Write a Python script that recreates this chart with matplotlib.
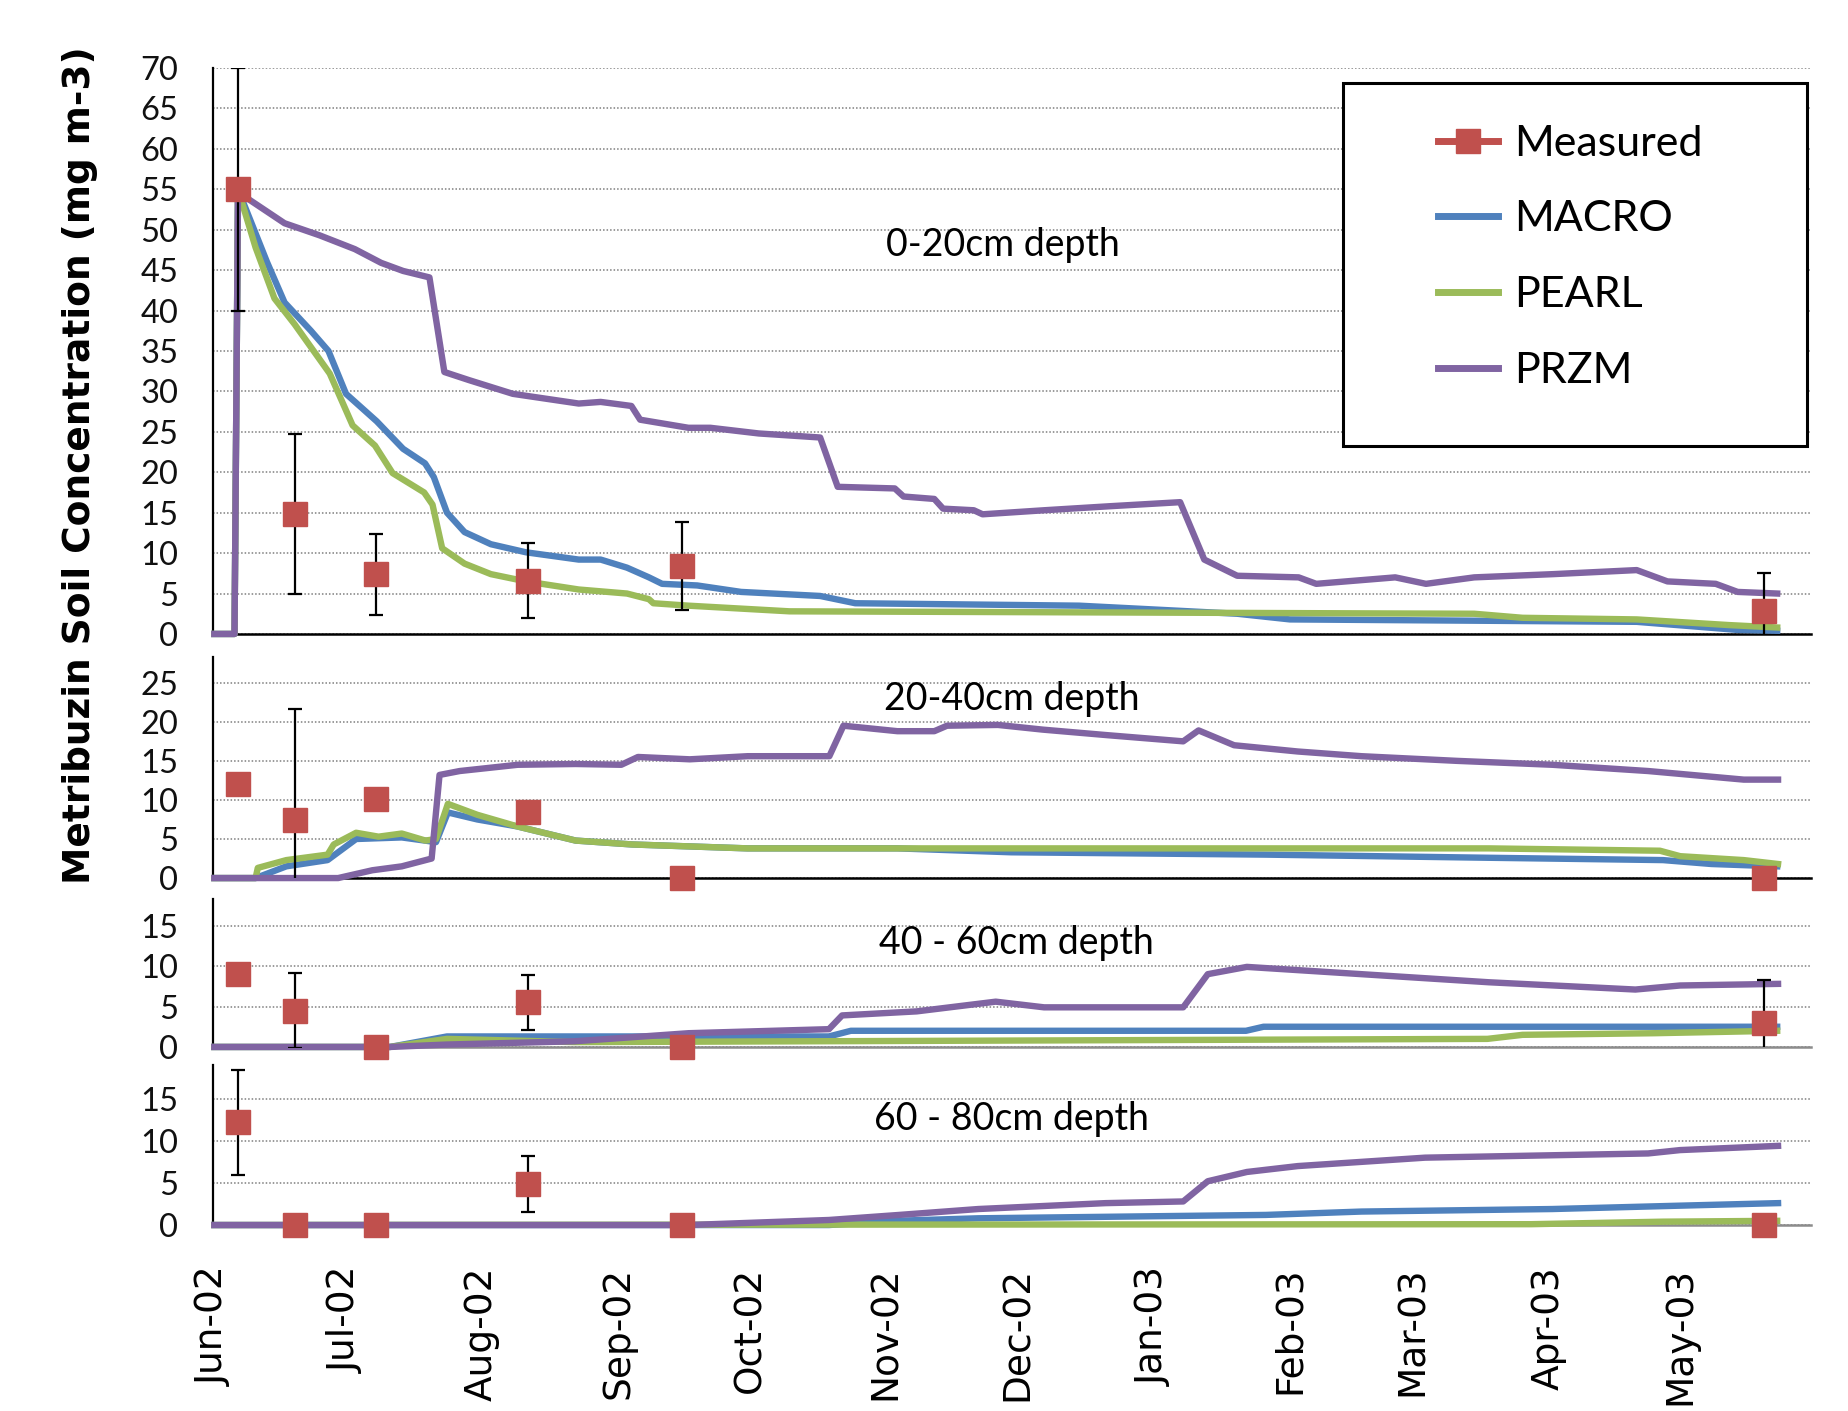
import numpy as np
import matplotlib
matplotlib.use('Agg')
import matplotlib.pyplot as plt
import matplotlib.dates as mdates
from matplotlib.lines import Line2D
from matplotlib.patches import Rectangle

# days after 1 Jun 2002
start = mdates.datestr2num('2002-06-01')

meas_days = [5.4, 18.3, 36.8, 71.5, 106.5, 353]
meas_0_20 = [55, 14.8, 7.4, 6.6, 8.4, 2.8]
err_0_20 = [15, 9.9, 5.0, 4.6, 5.4, 4.8]
meas_20_40 = [12, 7.4, 10.1, 8.5, 0, 0]
err_20_40 = [0, 14.2, 0, 0, 0, 0]
meas_40_60 = [9, 4.5, 0, 5.5, 0, 3.0]
err_40_60 = [0, 4.6, 0, 3.4, 0, 5.3]
meas_60_80 = [12.2, 0, 0, 4.9, 0, 0]
err_60_80 = [6.2, 0, 0, 3.3, 0, 0]

# 0-20 cm
macro1_d = [0, 4.6, 5.4, 12, 16, 22, 26, 30, 37, 43, 48, 50, 53, 57, 63, 71, 83, 88, 94, 99, 102, 110,
            120, 138, 146, 197, 233, 245, 324, 347, 356]
macro1_v = [0, 0, 55, 46, 41, 37.5, 35, 29.7, 26.3, 22.9, 21.1, 19.4, 15, 12.6, 11.1, 10.1, 9.2, 9.2, 8.2,
            7, 6.2, 6, 5.2, 4.7, 3.8, 3.5, 2.5, 1.8, 1.5, 0.5, 0.4]
pearl1_d = [0, 4.6, 5.4, 9.4, 13.7, 18.3, 26.3, 31.5, 36.6, 40.6, 47.8, 49.7, 51.9, 57, 63, 71, 83, 94,
            99, 100, 108, 131, 287, 298, 324, 345, 356]
pearl1_v = [0, 0, 55, 47.8, 41.5, 38.3, 32.2, 25.8, 23.3, 19.9, 17.5, 16, 10.6, 8.7, 7.4, 6.5, 5.5, 5.0,
            4.3, 3.8, 3.5, 2.8, 2.5, 2.0, 1.8, 1.1, 0.8]
przm1_d = [0, 4.6, 5.4, 8, 16, 24, 32, 38, 43, 49, 52.4, 58, 68, 83, 88, 95, 97, 108, 113, 124, 138, 142,
           155, 157, 164, 166, 173, 175, 189, 204, 220, 225.5, 233, 247, 251, 269, 276, 287, 305, 324, 331,
           342, 347, 356]
przm1_v = [0, 0, 55, 53.7, 50.8, 49.3, 47.6, 45.9, 44.9, 44.1, 32.4, 31.4, 29.7, 28.5, 28.7, 28.2, 26.5,
           25.5, 25.5, 24.8, 24.3, 18.2, 18, 17, 16.7, 15.5, 15.3, 14.8, 15.3, 15.8, 16.3, 9.2, 7.2, 7, 6.2,
           7, 6.2, 7, 7.4, 7.9, 6.5, 6.2, 5.2, 5]

# 20-40 cm
macro2_d = [0, 9.4, 16.4, 25.8, 32.3, 42.7, 50.5, 53.2, 59.9, 69.1, 82.3, 95.2, 121.5, 155.6, 181.5,
            239.5, 290, 330, 341, 356]
macro2_v = [0, 0, 1.5, 2.3, 5, 5.2, 4.6, 8.4, 7.5, 6.6, 4.8, 4.3, 3.8, 3.8, 3.3, 3.0, 2.6, 2.3, 1.8, 1.5]
pearl2_d = [0, 9.4, 9.9, 16.4, 25.8, 27.2, 32.3, 37.4, 42.7, 48.1, 50.5, 53.2, 59.9, 69.1, 82.3, 95.2,
            121.5, 290.3, 329.3, 333.9, 348.4, 356.2]
pearl2_v = [0, 0, 1.3, 2.3, 3, 4.3, 5.8, 5.3, 5.7, 4.8, 5, 9.5, 8.1, 6.6, 4.8, 4.3, 3.8, 3.8, 3.5, 2.8,
            2.3, 1.8]
przm2_d = [0, 28.2, 36, 42.7, 49.5, 51.3, 55.9, 69.1, 82.3, 92.7, 96.5, 108.3, 121.5, 140.1, 143.3, 155.6,
           164, 166.9, 178.5, 188.7, 203.2, 220.7, 224.2, 232.3, 246.8, 261.3, 283.1, 304.8, 326.6, 348.4,
           356.2]
przm2_v = [0, 0, 1, 1.5, 2.5, 13.2, 13.7, 14.5, 14.6, 14.5, 15.5, 15.2, 15.6, 15.6, 19.5, 18.8, 18.8, 19.5,
           19.6, 19, 18.3, 17.5, 18.9, 17, 16.2, 15.6, 15, 14.5, 13.7, 12.6, 12.6]

# 40-60 cm
macro3_d = [0, 40, 53, 140, 145, 235, 239, 356]
macro3_v = [0, 0, 1.3, 1.3, 2.0, 2.0, 2.5, 2.5]
pearl3_d = [0, 40, 53, 82, 290, 298, 328, 356]
pearl3_v = [0, 0, 1, 0.6, 1, 1.5, 1.7, 2.0]
przm3_d = [0, 40, 53, 82, 108, 140, 143, 160, 178, 189, 220.7, 226.3, 235.2, 261.3, 290.3, 323.7,
           333.9, 356.2]
przm3_v = [0, 0, 0.3, 0.7, 1.7, 2.2, 3.9, 4.4, 5.6, 4.9, 4.9, 9, 9.9, 9, 8, 7.1, 7.6, 7.8]

# 60-80 cm
macro4_d = [0, 140, 155, 174, 239.5, 261.3, 304.8, 333.9, 356.2]
macro4_v = [0, 0, 0.5, 0.8, 1.2, 1.6, 1.9, 2.3, 2.6]
pearl4_d = [0, 300, 330, 356]
pearl4_v = [0, 0.1, 0.4, 0.5]
przm4_d = [0, 108, 140, 156, 174, 203, 220.7, 226.3, 235.2, 246.8, 275.8, 326.6, 333.9, 356.2]
przm4_v = [0, 0, 0.6, 1.2, 1.9, 2.6, 2.8, 5.2, 6.3, 7, 8, 8.5, 8.9, 9.4]

panels = [
    ('0-20cm depth', 70, 70, meas_0_20, err_0_20, (macro1_d, macro1_v), (pearl1_d, pearl1_v), (przm1_d, przm1_v)),
    ('20-40cm depth', 28.3, 25, meas_20_40, err_20_40, (macro2_d, macro2_v), (pearl2_d, pearl2_v), (przm2_d, przm2_v)),
    ('40 - 60cm depth', 18.3, 15, meas_40_60, err_40_60, (macro3_d, macro3_v), (pearl3_d, pearl3_v), (przm3_d, przm3_v)),
    ('60 - 80cm depth', 19, 15, meas_60_80, err_60_80, (macro4_d, macro4_v), (pearl4_d, pearl4_v), (przm4_d, przm4_v)),
]

c_meas = '#C0504D'
c_macro = '#4F81BD'
c_pearl = '#9BBB59'
c_przm = '#8064A2'

rects = [
    [0.1152, 0.5507, 0.8640, 0.4011],
    [0.1152, 0.3777, 0.8640, 0.1567],
    [0.1152, 0.2580, 0.8640, 0.1049],
    [0.1152, 0.1318, 0.8640, 0.1134],
]
label_pos = [(0.5425, 0.8264), (0.5473, 0.5046), (0.5495, 0.3317), (0.5473, 0.2069)]

fig = plt.figure(figsize=(18.49, 14.11), dpi=100)
axes = []
for i, (name, ymax, ytop, meas, err, mac, pea, prz) in enumerate(panels):
    ax = fig.add_axes(rects[i], sharex=axes[0] if axes else None)
    axes.append(ax)
    ax.set_ylim(0, ymax)
    ax.set_yticks(np.arange(0, ytop + 1, 5))
    ax.grid(axis='y', color='#7f7f7f', linestyle=(0, (1, 1.3)), linewidth=1.1)
    ax.set_axisbelow(True)
    for s in ['top', 'right']:
        ax.spines[s].set_visible(False)
    ax.spines['left'].set_linewidth(1.6)
    ax.spines['bottom'].set_linewidth(1.8)
    if i >= 2:
        ax.spines['bottom'].set_color('#8c8c8c')
    ax.tick_params(axis='y', length=0, pad=25, labelsize=23.5, labelfontfamily='Lato', labelcolor='#111111')
    ax.tick_params(axis='x', length=0)

    for (d, v), col in [(mac, c_macro), (pea, c_pearl), (prz, c_przm)]:
        ax.plot(start + np.array(d), v, color=col, lw=4.6, clip_on=False, zorder=3,
                solid_joinstyle='round')
    m = np.array(meas, float)
    e = np.array(err, float)
    ax.errorbar(start + np.array(meas_days), m, yerr=e, fmt='none', ecolor='black',
                elinewidth=1.6, capsize=5, capthick=1.6, zorder=4)
    ax.plot(start + np.array(meas_days), m, 's', color=c_meas, ms=17, mec=c_meas,
            clip_on=False, zorder=5)
    fig.text(label_pos[i][0], label_pos[i][1], name, ha='center', va='center',
             fontsize=27, family='Lato', color='black')

ax = axes[0]
ax.set_xlim(start - 0.3, start + 363.6)
ax.xaxis.set_major_locator(mdates.MonthLocator())
ax.xaxis.set_major_formatter(mdates.DateFormatter('%b-%y'))
for a in axes[:3]:
    plt.setp(a.get_xticklabels(), visible=False)
axes[3].tick_params(axis='x', pad=30, labelsize=27, labelrotation=90)
for t in axes[3].get_xticklabels():
    t.set_va('top')

fig.text(0.0433, 0.6704, 'Metribuzin Soil Concentration (mg m-3)', rotation=90,
         ha='center', va='center', fontsize=27, fontweight='bold')

# legend box
fig.patches.append(Rectangle((0.7263, 0.6839), 0.2510, 0.2573, transform=fig.transFigure,
                             facecolor='white', edgecolor='black', lw=2.2, zorder=10))
handles = [
    Line2D([], [], color=c_meas, lw=5, marker='s', ms=17),
    Line2D([], [], color=c_macro, lw=5),
    Line2D([], [], color=c_pearl, lw=5),
    Line2D([], [], color=c_przm, lw=5),
]
leg = fig.legend(handles, ['Measured', 'MACRO', 'PEARL', 'PRZM'], loc='upper left',
                 bbox_to_anchor=(0.7777, 0.9117), frameon=False, borderpad=0, borderaxespad=0,
                 handlelength=1.4, handletextpad=0.37, labelspacing=0.88,
                 prop={'family': 'Lato', 'size': 31})
leg.set_zorder(11)

plt.savefig('out.png', dpi=100)
